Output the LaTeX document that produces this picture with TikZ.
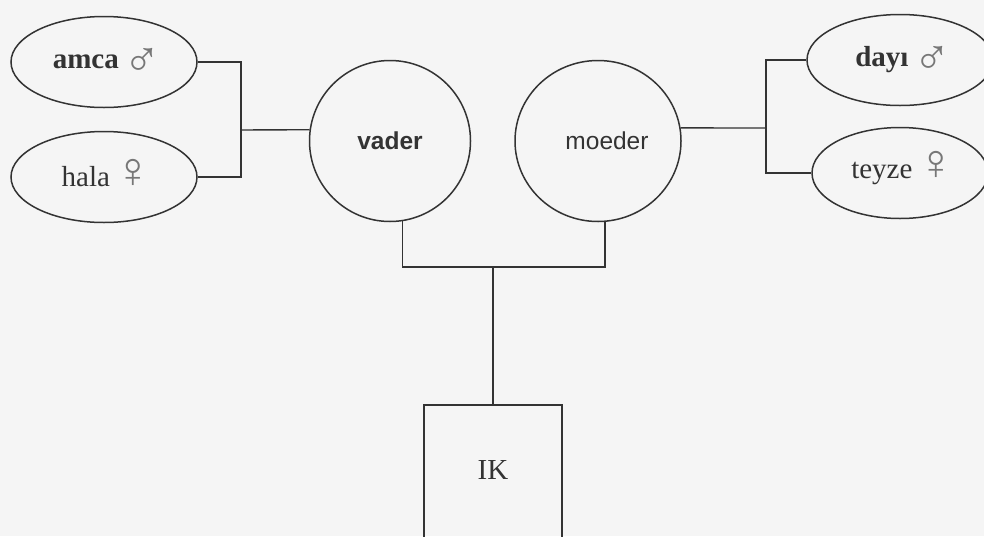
\documentclass[tikz,border=0pt]{standalone}
\usepackage{fontspec}
\setmainfont{Liberation Serif}
\setsansfont{Liberation Sans}
\usetikzlibrary{shapes.geometric}
\definecolor{bg}{HTML}{F5F5F5}
\definecolor{ink}{HTML}{333333}
\definecolor{sym}{HTML}{777777}
\begin{document}
\begin{tikzpicture}[x=1pt,y=-1pt,
  conn/.style={draw=ink, line width=1.4pt},
  oval/.style={ellipse, draw=ink, line width=1.5pt, inner sep=0pt, minimum width=186pt, minimum height=91pt,
    font=\fontsize{29}{34}\selectfont, text=ink},
  parent/.style={ellipse, draw=ink, line width=1.5pt, inner sep=0pt, minimum width=161pt, minimum height=161pt,
    font=\sffamily\fontsize{24.5}{30}\selectfont, text=ink},
  childbox/.style={rectangle, draw=ink, line width=1.5pt, inner sep=0pt, minimum width=138pt,
    text height=75pt, text depth=110pt, font=\fontsize{29}{34}\selectfont, text=ink}]
\useasboundingbox (0,0) rectangle (984,536);
\fill[bg] (0,0) rectangle (984,536);
\clip (0,0) rectangle (984,536);
\newcommand{\msym}{\smash{\raisebox{-8pt}{\color{sym}\fontsize{50}{50}\selectfont ♂}}}
\newcommand{\fsym}{\smash{\raisebox{-1pt}{\color{sym}\fontsize{50}{50}\selectfont ♀}}}
% aunts/uncles
\node[oval] (amca) at (104,62) {\hspace*{6pt}\textbf{amca}\,\msym};
\node[oval] (hala) at (104,177) {\hspace*{6pt}hala\,\fsym};
\node[oval] (dayi) at (900,60) {\hspace*{6pt}\textbf{dayı}\,\msym};
\node[oval, minimum width=176pt] (teyze) at (900,173) {\hspace*{6pt}teyze\,\fsym};
% parents
\node[parent] (vader) at (390,141) {\textbf{vader}};
\node[parent, minimum width=166pt] (moeder) at (598,141) {\hspace*{18pt}moeder};
% child
\node[childbox, anchor=north] (ik) at (493,404) {IK};
% junctions
\coordinate (lj) at (241,130);
\coordinate (rj) at (766,128);
\coordinate (bj) at (493,267);
\draw[conn] (amca.east) -| (lj) |- (hala.east);
\draw[conn] (lj) -- (vader.172);
\draw[conn] (dayi.west) -| (rj) |- (teyze.west);
\draw[conn] (rj) -- (moeder.9);
\draw[conn] (vader.-81) |- (bj) -| (moeder.-85);
\draw[conn] (bj) -- (ik.north);
\end{tikzpicture}
\end{document}
